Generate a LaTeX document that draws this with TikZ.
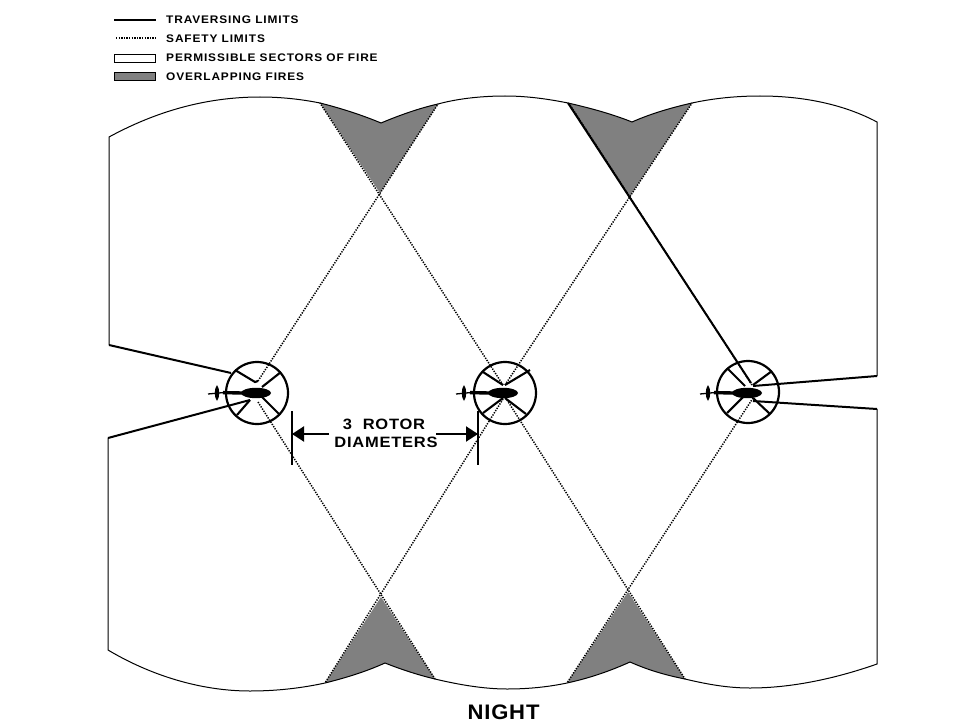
\documentclass[tikz,border=0pt]{standalone}
\usepackage{fontspec}
\setmainfont{Liberation Sans}
\newfontfamily\legendfont[LetterSpace=8,FakeStretch=1.08]{Liberation Sans}
\newfontfamily\rotorfont[LetterSpace=5,FakeStretch=1.1]{Liberation Sans}
\newfontfamily\nightfont[LetterSpace=4,FakeStretch=1.05]{Liberation Sans}
\usetikzlibrary{arrows.meta}
\tikzset{
  boundary/.style={line width=1pt},
  traverse/.style={line width=2pt},
  safety/.style={line width=1.5pt,dash pattern=on 1.3pt off 1.3pt},
  crossline/.style={line width=2.1pt},
  overlap/.style={fill={rgb,255:red,128;green,128;blue,128},draw=none},
  rotordisc/.style={line width=2.2pt},
  legendtext/.style={anchor=west,inner sep=0pt,font=\legendfont\bfseries\fontsize{11}{12}\selectfont},
  dimtext/.style={inner sep=0pt,font=\rotorfont\bfseries\fontsize{15}{16}\selectfont},
  dimline/.style={line width=2pt},
  dimarrow/.style={line width=2pt,-{Triangle[length=12pt,width=15pt]}},
}
\newcommand{\heli}[3]{% body left x, body right x, tail left x
  \fill (#1+15,393) ellipse [x radius=15,y radius=5.2];
  \draw[line width=3.4pt] (#1+1,393) -- (#1-18,392.6);
  \draw[line width=1.3pt] (#1-18,392.6) -- (#3,394);
  \fill (#1-24,385) .. controls (#1-21,389) and (#1-21,397) .. (#1-24,401) .. controls (#1-27,397) and (#1-27,389) .. (#1-24,385) -- cycle;
}
\begin{document}
\begin{tikzpicture}[x=1pt,y=-1pt]
\useasboundingbox (0,0) rectangle (960,722);
% overlapping fires
\fill[overlap] (320,103) .. controls (340,108) and (362,115) .. (381,123) .. controls (400,115) and (420,108) .. (438,104) -- (380,193) -- cycle;
\fill[overlap] (568,103) .. controls (590,108) and (612,114) .. (632,122) .. controls (650,114) and (670,108) .. (692,103) -- (630,196) -- cycle;
\fill[overlap] (381,597) -- (325,683) .. controls (345,678) and (365,672) .. (385,663) .. controls (400,669) and (418,675) .. (435,679) -- cycle;
\fill[overlap] (628,592) -- (567,683) .. controls (590,678) and (610,671) .. (630,662) .. controls (648,670) and (665,675) .. (685,679) -- cycle;
% outer boundary
\draw[boundary] (109,345) -- (109,137) .. controls (155,112) and (205,97) .. (260,97) .. controls (280,97) and (300,99) .. (320,103)
  .. controls (340,108) and (362,115) .. (381,123) .. controls (400,115) and (420,108) .. (438,104)
  .. controls (460,98) and (485,96) .. (505,96) .. controls (527,96) and (548,99) .. (568,103)
  .. controls (590,108) and (612,114) .. (632,122) .. controls (650,114) and (670,108) .. (692,103)
  .. controls (715,98) and (738,96) .. (760,96) .. controls (805,96) and (845,105) .. (877,122) -- (877,376);
\draw[boundary] (108,438) -- (108,650) .. controls (150,675) and (200,691) .. (250,691) .. controls (277,691) and (302,688) .. (325,683)
  .. controls (345,678) and (365,672) .. (385,663) .. controls (400,669) and (418,675) .. (435,679)
  .. controls (460,685) and (485,689) .. (507,689) .. controls (528,689) and (548,687) .. (567,683)
  .. controls (590,678) and (610,671) .. (630,662) .. controls (648,670) and (665,675) .. (685,679)
  .. controls (710,685) and (730,688) .. (750,688) .. controls (795,688) and (840,677) .. (877,664) -- (877,409);
% safety limits
\draw[safety] (258,381) -- (438,104);
\draw[safety] (258,402) -- (435,679);
\draw[safety] (503,385) -- (320,103);
\draw[safety] (505,385) -- (692,103);
\draw[safety] (503,399) -- (325,683);
\draw[safety] (507,400) -- (685,679);
\draw[safety] (753,398) -- (567,683);
\draw[safety] (752,385) -- (570,105);
% traversing limits
\draw[traverse] (109,345) -- (231,373);
\draw[traverse] (108,438) -- (250,400);
\draw[traverse] (568,103) -- (751,383);
\draw[traverse] (877,376) -- (753,386);
\draw[traverse] (877,409) -- (753,401);
% rotor discs and crosses
\foreach \cx/\cy in {257/393,505/393,748/392}{
  \draw[rotordisc] (\cx,\cy) circle [radius=31];
}
\draw[crossline] (235,370) -- (255,382) -- (258,381) (281,372) -- (262,387) (237,415) -- (250,400) (280,415) -- (262,397);
\draw[crossline] (483,372) -- (503,385) (530,370) -- (505,385) (483,413) -- (503,398) (526,414) -- (505,398);
\draw[crossline] (727,368) -- (745,386) (772,371) -- (753,385) (727,413) -- (743,397) (770,414) -- (753,398);
% helicopters
\heli{241}{271}{208}
\heli{488}{518}{456}
\heli{732}{762}{700}
% dimension
\coordinate (dimL) at (292,434);
\coordinate (dimR) at (478,434);
\coordinate (arrL) at (329,434);
\coordinate (arrR) at (436,434);
\draw[dimline] (292,411) -- (292,465);
\draw[dimline] (478,411) -- (478,465);
\draw[dimarrow] (arrL) -- (dimL);
\draw[dimarrow] (arrR) -- (dimR);
\node[dimtext] (rotorA) at (384,424) {3\ \ ROTOR};
\node[dimtext] (rotorB) at (386,442) {DIAMETERS};
\node[inner sep=0pt,font=\nightfont\bfseries\fontsize{21}{24}\selectfont] (night) at (503.5,712) {NIGHT};
% legend
\draw[traverse] (114,20) -- (156,20);
\draw[safety] (116,38) -- (156,38);
\draw[line width=.8pt] (114,54.5) rectangle (155,62.5);
\fill[overlap] (113.5,72) rectangle (155.5,81);
\draw[line width=.9pt] (114,72.5) rectangle (155,80.5);
\node[legendtext] (l1) at (166,20) {TRAVERSING LIMITS};
\node[legendtext] (l2) at (166,38.5) {SAFETY LIMITS};
\node[legendtext] (l3) at (166,57.5) {PERMISSIBLE SECTORS OF FIRE};
\node[legendtext] (l4) at (166,76.5) {OVERLAPPING FIRES};
\end{tikzpicture}
\end{document}
